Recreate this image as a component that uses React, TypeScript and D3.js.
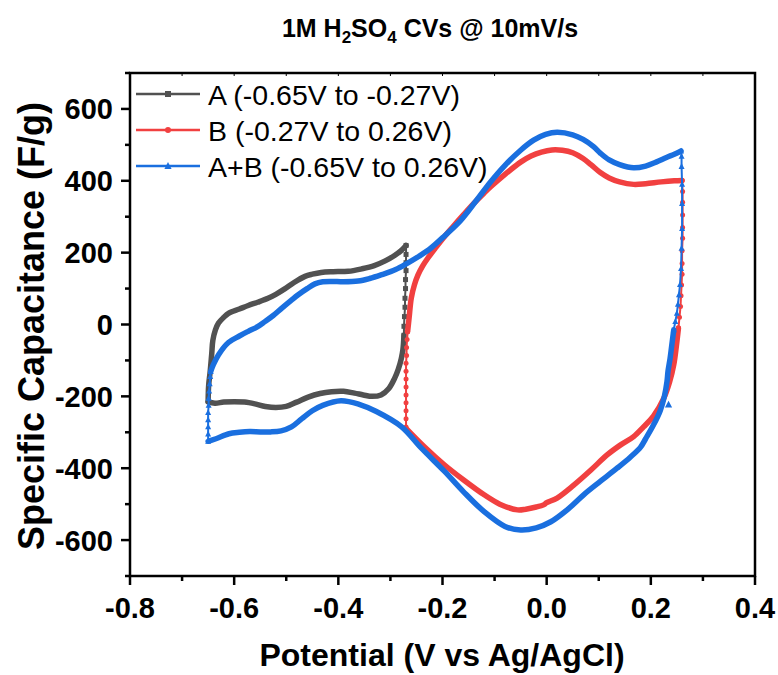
import React from "react";
import * as d3 from "d3";

type P = [number, number];

const xTicks = [-0.8, -0.6, -0.4, -0.2, 0.0, 0.2, 0.4];
const yTicks = [600, 400, 200, 0, -200, -400, -600];

const seriesNames = ["A (-0.65V to -0.27V)", "B (-0.27V to 0.26V)", "A+B (-0.65V to 0.26V)"];
const seriesColors = ["#515151", "#F14040", "#1A6FDF"];

// Series A
const aAnodic: P[] = [[-0.65,-215],[-0.649,-170],[-0.646,-130],[-0.643,-80],[-0.641,-45],[-0.636,-15],[-0.630,4],[-0.620,20],[-0.611,31],[-0.59,43],[-0.573,53],[-0.555,62],[-0.535,73],[-0.52,84],[-0.503,99],[-0.485,117],[-0.464,134],[-0.45,140],[-0.433,145],[-0.41,147],[-0.381,148],[-0.355,155],[-0.331,164],[-0.31,177],[-0.292,192],[-0.28,205],[-0.27,220]];
const aSwitch: P[] = [[-0.27,220],[-0.27,195],[-0.27,172],[-0.27,150],[-0.271,125],[-0.271,100],[-0.272,73],[-0.272,48],[-0.273,22],[-0.274,-5],[-0.274,-30]];
const aCathodic: P[] = [[-0.274,-30],[-0.276,-70],[-0.279,-94],[-0.285,-125],[-0.292,-150],[-0.303,-178],[-0.318,-196],[-0.335,-200],[-0.352,-196],[-0.369,-191],[-0.39,-186],[-0.413,-187],[-0.435,-192],[-0.458,-202],[-0.48,-216],[-0.50,-228],[-0.52,-231],[-0.54,-228],[-0.56,-221],[-0.58,-216],[-0.6,-215],[-0.62,-216],[-0.637,-219],[-0.65,-215]];

// Series B
const bSwitchLeft: P[] = [[-0.27,-285],[-0.27,-262],[-0.27,-240],[-0.27,-218],[-0.27,-196],[-0.27,-174],[-0.27,-152],[-0.27,-130],[-0.27,-108],[-0.269,-86],[-0.269,-64],[-0.268,-42],[-0.267,-20]];
const bAnodic: P[] = [[-0.267,-20],[-0.264,20],[-0.26,73],[-0.254,110],[-0.247,138],[-0.238,163],[-0.228,185],[-0.215,210],[-0.2,238],[-0.18,272],[-0.16,305],[-0.14,337],[-0.12,366],[-0.107,384],[-0.08,418],[-0.05,452],[-0.03,469],[-0.01,480],[0.01,486],[0.03,485],[0.05,478],[0.07,462],[0.085,445],[0.103,423],[0.12,408],[0.14,397],[0.167,390],[0.19,392],[0.22,397],[0.245,400],[0.26,401]];
const bSwitchRight: P[] = [[0.26,401],[0.261,370],[0.261,340],[0.261,305],[0.261,270],[0.261,240],[0.26,205],[0.26,170],[0.26,140],[0.259,110],[0.258,80],[0.257,50],[0.255,20],[0.253,-10]];
const bCathodic: P[] = [[0.253,-10],[0.249,-60],[0.244,-112],[0.236,-160],[0.225,-205],[0.205,-255],[0.186,-285],[0.167,-312],[0.142,-335],[0.116,-363],[0.085,-405],[0.052,-447],[0.02,-483],[0.0,-496],[-0.006,-502],[-0.02,-508],[-0.04,-514],[-0.056,-516],[-0.09,-500],[-0.12,-474],[-0.16,-432],[-0.196,-391],[-0.235,-340],[-0.27,-289]];

// Series A+B
const cSwitchLeft: P[] = [[-0.65,-325],[-0.65,-305],[-0.65,-285],[-0.65,-265],[-0.65,-245],[-0.649,-225],[-0.649,-205],[-0.648,-185],[-0.647,-165],[-0.646,-145],[-0.645,-131]];
const cAnodic: P[] = [[-0.645,-131],[-0.640,-112],[-0.630,-84],[-0.611,-50],[-0.59,-32],[-0.573,-19],[-0.555,-6],[-0.541,8],[-0.525,25],[-0.509,45],[-0.49,68],[-0.477,83],[-0.46,100],[-0.445,113],[-0.43,119],[-0.413,120],[-0.39,119],[-0.362,121],[-0.34,128],[-0.318,138],[-0.29,153],[-0.267,171],[-0.245,190],[-0.222,213],[-0.195,248],[-0.165,290],[-0.135,345],[-0.107,398],[-0.08,443],[-0.05,485],[-0.025,513],[-0.002,529],[0.02,535],[0.05,528],[0.07,515],[0.09,495],[0.103,477],[0.12,458],[0.14,445],[0.167,436],[0.19,441],[0.21,452],[0.23,465],[0.245,474],[0.258,483]];
const cSwitchRight: P[] = [[0.258,483],[0.259,468],[0.259,440],[0.26,390],[0.26,337],[0.26,267],[0.259,212],[0.258,156],[0.256,111],[0.254,83],[0.252,56],[0.25,31],[0.247,8],[0.244,-15]];
const cCathodic: P[] = [[0.244,-15],[0.24,-60],[0.237,-94],[0.233,-130],[0.231,-159],[0.226,-200],[0.218,-240],[0.205,-280],[0.19,-318],[0.18,-342],[0.16,-370],[0.135,-400],[0.1,-440],[0.071,-474],[0.04,-515],[0.008,-549],[-0.02,-566],[-0.05,-572],[-0.08,-562],[-0.12,-521],[-0.16,-465],[-0.196,-409],[-0.24,-345],[-0.279,-284],[-0.327,-242],[-0.36,-222],[-0.395,-212],[-0.43,-225],[-0.45,-240],[-0.47,-262],[-0.49,-285],[-0.51,-296],[-0.53,-299],[-0.55,-299],[-0.57,-298],[-0.59,-300],[-0.61,-304],[-0.635,-318],[-0.65,-325]];
const cStray: P[] = [[0.234,-223]];

const W = 778, H = 675;
const L = 130, R = 755, T = 73, B = 576;

export default function App() {
  const x = d3.scaleLinear().domain([-0.8, 0.4]).range([L, R]);
  const y = d3.scaleLinear().domain([-700, 700]).range([B, T]);
  const line = d3.line<P>().x(d => x(d[0])).y(d => y(d[1])).curve(d3.curveCatmullRom.alpha(0.5));
  const straight = d3.line<P>().x(d => x(d[0])).y(d => y(d[1]));

  const marker = (kind: number, cx: number, cy: number, color: string, s: number, key: string) => {
    if (kind === 0) return <rect key={key} x={cx - s / 2} y={cy - s / 2} width={s} height={s} fill={color} />;
    if (kind === 1) return <circle key={key} cx={cx} cy={cy} r={s / 2} fill={color} />;
    const h = s * 1.1;
    return <path key={key} d={`M${cx},${cy - h * 0.6}L${cx + s * 0.6},${cy + h * 0.45}L${cx - s * 0.6},${cy + h * 0.45}Z`} fill={color} />;
  };

  const series = [
    { thick: [aAnodic, aCathodic], thin: [aSwitch], stray: [] as P[] },
    { thick: [bAnodic, bCathodic], thin: [bSwitchLeft, bSwitchRight], stray: [] as P[] },
    { thick: [cAnodic, cCathodic], thin: [cSwitchLeft, cSwitchRight], stray: cStray },
  ];

  const xMinor = d3.range(-0.8, 0.41, 0.1);
  const yMinor = d3.range(-700, 701, 100);
  const fmt = (v: number) => d3.format(".1f")(v).replace("\u2212", "-");

  return (
    <svg width={W} height={H} style={{ position: "absolute", left: 0, top: 0, background: "#fff" }} fontFamily="Arial, 'Liberation Sans', sans-serif">
      <rect x={0} y={0} width={W} height={H} fill="#fff" />
      {/* Title */}
      <text x={430} y={37} textAnchor="middle" fontSize={25} fontWeight="bold">
        1M H<tspan fontSize={17} dy={6}>2</tspan><tspan dy={-6}>SO</tspan><tspan fontSize={17} dy={6}>4</tspan><tspan dy={-6}> CVs @ 10mV/s</tspan>
      </text>

      {/* series */}
      {series.map((s, i) => (
        <g key={i}>
          {s.thin.map((arr, j) => (
            <g key={"t" + j}>
              <path d={straight(arr) || ""} fill="none" stroke={seriesColors[i]} strokeWidth={2} />
              {arr.map((p, k) => marker(i, x(p[0]), y(p[1]), seriesColors[i], 5, `m${j}-${k}`))}
            </g>
          ))}
          {s.thick.map((arr, j) => (
            <path key={"k" + j} d={line(arr) || ""} fill="none" stroke={seriesColors[i]} strokeWidth={5.5} strokeLinejoin="round" strokeLinecap="round" />
          ))}
          {s.stray.map((p, k) => marker(i, x(p[0]), y(p[1]), seriesColors[i], 6, `s${k}`))}
        </g>
      ))}

      {/* frame */}
      <rect x={L} y={T} width={R - L} height={B - T} fill="none" stroke="#000" strokeWidth={2.5} />

      {/* top inward minor ticks */}
      {xMinor.map((v, i) => (
        <line key={"tt" + i} x1={x(v)} x2={x(v)} y1={T} y2={T + 3} stroke="#000" strokeWidth={1} />
      ))}

      {/* x axis ticks */}
      {xMinor.map((v, i) => {
        const major = i % 2 === 0;
        return <line key={"xt" + i} x1={x(v)} x2={x(v)} y1={B} y2={B + (major ? 9 : 5)} stroke="#000" strokeWidth={2.5} />;
      })}
      {xTicks.map(v => (
        <text key={"xl" + v} x={x(v)} y={618} textAnchor="middle" fontSize={29} fontWeight="bold">{fmt(v)}</text>
      ))}

      {/* y axis ticks */}
      {yMinor.map((v, i) => {
        const major = Math.round(v) % 200 === 0;
        return <line key={"yt" + i} x1={L} x2={L - (major ? 9 : 5)} y1={y(v)} y2={y(v)} stroke="#000" strokeWidth={2.5} />;
      })}
      {yTicks.map(v => (
        <text key={"yl" + v} x={113} y={y(v) + 10.5} textAnchor="end" fontSize={29} fontWeight="bold">{String(v)}</text>
      ))}

      {/* axis titles */}
      <text x={442} y={666} textAnchor="middle" fontSize={32} fontWeight="bold">Potential (V vs Ag/AgCl)</text>
      <text transform={`translate(44,326) rotate(-90)`} textAnchor="middle" fontSize={36} fontWeight="bold">Specific Capacitance (F/g)</text>

      {/* legend */}
      {seriesNames.map((n, i) => {
        const ly = 94 + i * 36;
        return (
          <g key={"lg" + i}>
            <line x1={136} x2={200} y1={ly} y2={ly} stroke={seriesColors[i]} strokeWidth={2.5} />
            {marker(i, 168, ly, seriesColors[i], 6, "lm" + i)}
            <text x={208} y={ly + 11} fontSize={28.5}>{n}</text>
          </g>
        );
      })}
    </svg>
  );
}
